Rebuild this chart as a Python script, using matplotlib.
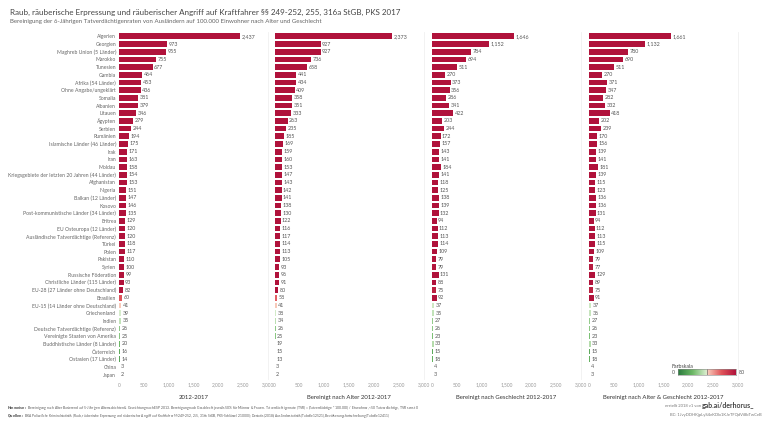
import matplotlib
matplotlib.use("Agg")
import matplotlib.pyplot as plt
import numpy as np
from matplotlib.colors import LinearSegmentedColormap, Normalize

categories = [
    "Algerien", "Georgien", "Maghreb Union (5 Länder)", "Marokko", "Tunesien",
    "Gambia", "Afrika (54 Länder)", "Ohne Angabe/ungeklärt", "Somalia", "Albanien",
    "Litauen", "Ägypten", "Serbien", "Rumänien", "Islamische Länder (46 Länder)",
    "Irak", "Iran", "Moldau", "Kriegsgebiete der letzten 20 Jahren (44 Länder)",
    "Afghanistan", "Nigeria", "Balkan (12 Länder)", "Kosovo",
    "Post-kommunistische Länder (34 Länder)", "Eritrea", "EU Osteuropa (12 Länder)",
    "Ausländische Tatverdächtige (Referenz)", "Türkei", "Polen", "Pakistan", "Syrien",
    "Russische Föderation", "Christliche Länder (115 Länder)",
    "EU-28 (27 Länder ohne Deutschland)", "Brasilien",
    "EU-15 (14 Länder ohne Deutschland)", "Griechenland", "Indien",
    "Deutsche Tatverdächtige (Referenz)", "Vereinigte Staaten von Amerika",
    "Buddhistische Länder (8 Länder)", "Österreich", "Ostasien (17 Länder)",
    "China", "Japan",
]

tvr_raw = [2437, 973, 955, 755, 677, 464, 453, 436, 381, 379, 346, 279, 244, 194, 175,
           171, 163, 158, 154, 153, 151, 147, 146, 135, 129, 120, 120, 118, 117, 110,
           100, 99, 93, 82, 60, 41, 39, 35, 26, 25, 20, 16, 14, 3, 2]
tvr_age = [2373, 927, 927, 736, 658, 441, 434, 409, 358, 351, 333, 263, 235, 185, 169,
           159, 160, 153, 147, 143, 142, 141, 138, 130, 122, 116, 117, 114, 113, 105,
           93, 96, 91, 80, 58, 41, 38, 34, 26, 25, 19, 15, 13, 3, 2]
tvr_sex = [1646, 1152, 784, 694, 511, 270, 373, 356, 286, 341, 422, 203, 244, 172, 157,
           143, 141, 184, 141, 118, 125, 138, 139, 132, 94, 112, 113, 114, 109, 79,
           79, 131, 88, 75, 92, 37, 35, 27, 26, 23, 33, 15, 18, 4, 3]
tvr_both = [1661, 1132, 780, 690, 511, 270, 371, 347, 282, 332, 418, 202, 239, 170, 156,
            139, 141, 181, 139, 115, 123, 136, 136, 131, 94, 112, 113, 115, 109, 79,
            77, 129, 89, 75, 91, 37, 36, 27, 26, 23, 33, 15, 18, 4, 3]

panel_titles = ["2012-2017", "Bereinigt nach Alter 2012-2017",
                "Bereinigt nach Geschlecht 2012-2017",
                "Bereinigt nach Alter & Geschlecht 2012-2017"]
x_ticks = [0, 500, 1000, 1500, 2000, 2500, 3000]

plt.rcParams['font.family'] = ['Lato', 'DejaVu Sans']

fig = plt.figure(figsize=(7.68, 4.32), dpi=100)
W, H = 768.0, 432.0

cmap = LinearSegmentedColormap.from_list("rg", [
    (0.0, "#2a7a3d"), (0.25, "#6cb865"), (0.49, "#d9eecf"),
    (0.51, "#f8cbbb"), (0.75, "#e0545a"), (1.0, "#b0123b")])
norm = Normalize(vmin=0, vmax=80, clip=True)

series = [tvr_raw, tvr_age, tvr_sex, tvr_both]
lefts = [119, 274.5, 432, 589]
top_px, bot_px = 32.5, 378.5
n = len(categories)
y = np.arange(n)

for k, (vals, left) in enumerate(zip(series, lefts)):
    ax = fig.add_axes([left / W, 1 - bot_px / H, 149 / W, (bot_px - top_px) / H])
    vals = [int(v) for v in vals]
    ax.barh(y, vals, height=0.74, color=cmap(norm(np.array(vals))))
    ax.set_ylim(n - 0.5, -0.5)
    ax.set_xlim(0, 3000)
    for i, v in enumerate(vals):
        ax.text(v + 30, i, f"{v:,}", va="center", ha="left", fontsize=3.9, color="#555555")
    ax.set_xticks(x_ticks)
    ax.set_xticklabels([f"{t:,}" for t in x_ticks])
    ax.tick_params(axis="x", length=0, labelsize=3.5, colors="#999999", pad=3)
    ax.set_xlabel(panel_titles[k], fontsize=4.3, color="#333333", labelpad=5)
    for s in ["top", "left", "bottom"]:
        ax.spines[s].set_visible(False)
    ax.spines["right"].set_color("#f0f0f0")
    ax.spines["right"].set_linewidth(0.6)
    if k == 0:
        ax.set_yticks(y)
        ax.set_yticklabels(categories, fontsize=3.7, color="#666666")
        ax.tick_params(axis="y", length=0, pad=2)
    else:
        ax.set_yticks([])

# Titles
fig.text(10 / W, 1 - 12 / H, "Raub, räuberische Erpressung und räuberischer Angriff auf Kraftfahrer §§ 249-252, 255, 316a StGB, PKS 2017",
         fontsize=5.8, color="#444444", va="center", ha="left")
fig.text(10 / W, 1 - 22 / H, "Bereinigung der 6-Jährigen Tatverdächtigenraten von Ausländern auf 100.000 Einwohner nach Alter und Geschlecht",
         fontsize=4.4, color="#666666", va="center", ha="left")

# Colour legend
fig.text(672 / W, 1 - 366 / H, "Farbskala", fontsize=3.8, color="#444444", va="center", ha="left")
lax = fig.add_axes([678 / W, 1 - 375 / H, 58 / W, 6 / H])
grad = np.linspace(0, 80, 256).reshape(1, -1)
lax.imshow(grad, aspect="auto", cmap=cmap, norm=norm, extent=[0, 80, 0, 1])
lax.axvline(40, color="#555555", lw=0.4)
lax.set_xticks([]); lax.set_yticks([])
for s in lax.spines.values():
    s.set_color("#888888"); s.set_linewidth(0.4)
fig.text(675 / W, 1 - 372 / H, "0", fontsize=3.8, color="#555555", va="center", ha="right")
fig.text(739 / W, 1 - 372 / H, "80", fontsize=3.8, color="#555555", va="center", ha="left")

# Footer
fig.text(7 / W, 1 - 407 / H,
         r"$\bf{Hinweise:}$ Bereinigung nach Alter Basierend auf 5-Jährigen Altersschichten & Gewichtung nach ESP 2013. Bereinigung nach Geschlecht jeweils 50% für Männer & Frauen. Tatverdächtigenrate (TVR) = (Tatverdächtige * 100.000) / Einwohner, <50 Tatverdächtige, TVR sonst 0",
         fontsize=2.45, color="#555555", va="center", ha="left")
fig.text(7 / W, 1 - 416 / H,
         r"$\bf{Quellen:}$ BKA Polizeiliche Kriminalstatistik (Raub, räuberische Erpressung und räuberischer Angriff auf Kraftfahrer §§ 249-252, 255, 316a StGB, PKS-Schlüssel 210000); Destatis (2018): Ausländerstatistik (Tabelle 12521), Bevölkerungsfortschreibung (Tabelle 12411)",
         fontsize=2.3, color="#555555", va="center", ha="left")
fig.text(702 / W, 1 - 406 / H, "erstellt 2018 v1 von ", fontsize=3.0, color="#777777", va="center", ha="right")
fig.text(702 / W, 1 - 405.5 / H, "gab.ai/derhorus_", fontsize=5.0, color="#444444", va="center", ha="left", fontweight="bold")
fig.text(762 / W, 1 - 415 / H, "BC: 1JvyDDHKjpLyS4eKDlx1KJeTFQdVi8bTwCeB", fontsize=3.0, color="#777777", va="center", ha="right")

fig.savefig("out.png", dpi=100)
